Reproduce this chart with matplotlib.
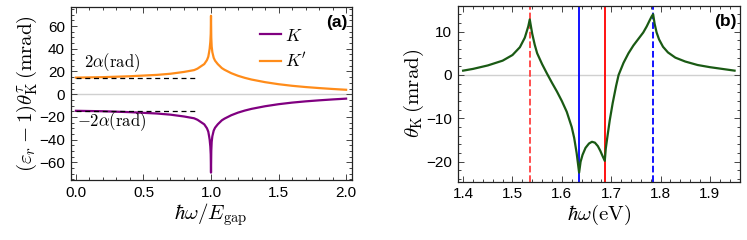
import numpy as np
import matplotlib
matplotlib.use('Agg')
import matplotlib.pyplot as plt
from matplotlib.ticker import MultipleLocator

plt.rcParams['font.family'] = ['Liberation Sans', 'DejaVu Sans']
plt.rcParams['mathtext.fontset'] = 'cm'

# panel (a): K' curve (K is its mirror image)
x_a = [0.0, 0.2, 0.4, 0.6, 0.7, 0.8, 0.875, 0.9, 0.925, 0.95, 0.97, 0.98,
       0.986, 0.99, 0.995, 0.998, 1.0, 1.002, 1.005, 1.01, 1.02, 1.03, 1.05,
       1.08, 1.1, 1.15, 1.2, 1.25, 1.3, 1.4, 1.5, 1.6, 1.7, 1.8, 1.9, 2.0]
kp_a = [14.6, 15.0, 15.8, 17.0, 18.0, 19.6, 21.2, 22.5, 24.5, 26.5, 30.0, 33.0,
        37.0, 40.0, 46.0, 53.0, 69.0, 50.0, 42.0, 37.0, 32.0, 29.5, 26.5,
        23.0, 21.5, 18.5, 16.2, 14.4, 12.9, 10.6, 8.8, 7.4, 6.3, 5.4, 4.6, 3.9]
k_a = [-v for v in kp_a]
two_alpha = 14.6  # mrad
dash_end = 0.9

# panel (b): total Kerr angle
x_b = [1.400, 1.420, 1.450, 1.480, 1.500, 1.515, 1.525, 1.532, 1.535,
       1.540, 1.545, 1.550, 1.560, 1.570, 1.580, 1.590, 1.600, 1.610,
       1.620, 1.625, 1.630, 1.635, 1.638, 1.642, 1.648, 1.655, 1.661,
       1.667, 1.673, 1.678, 1.683, 1.687, 1.689, 1.692, 1.697, 1.703,
       1.710, 1.715, 1.725, 1.735, 1.745, 1.755, 1.765, 1.772, 1.778,
       1.782, 1.785, 1.788, 1.792, 1.797, 1.805, 1.815, 1.830, 1.850,
       1.875, 1.900, 1.925, 1.950]
y_b = [1.0, 1.4, 2.2, 3.3, 4.6, 6.4, 8.6, 11.2, 12.8,
       9.5, 7.0, 5.0, 2.5, 0.3, -1.8, -3.8, -6.0, -8.5,
       -12.0, -14.5, -18.0, -22.5, -20.0, -18.4, -16.8, -15.8, -15.4,
       -15.6, -16.4, -17.5, -18.8, -19.8, -17.0, -14.5, -10.5, -6.5,
       -2.5, 0.0, 2.8, 5.0, 6.8, 8.3, 9.8, 11.2, 12.6,
       13.5, 14.0, 11.8, 9.8, 8.2, 6.5, 5.2, 4.0, 3.1,
       2.3, 1.8, 1.4, 1.0]
vlines_b = [(1.535, '#ff4040', '--'), (1.635, '#0000ff', '-'),
            (1.687, '#ff0000', '-'), (1.785, '#0000ff', '--')]

fig = plt.figure(figsize=(7.47, 2.4), dpi=100)
ax1 = fig.add_axes([70.5 / 747, 60 / 240, 281 / 747, 173.3 / 240])
ax2 = fig.add_axes([457.7 / 747, 58.3 / 240, 282.3 / 747, 175.7 / 240])

for ax in (ax1, ax2):
    ax.tick_params(which='both', direction='in', top=True, right=True,
                   labelsize=11, pad=4, width=0.7, color='#444444')
    ax.tick_params(which='major', length=4)
    ax.tick_params(which='minor', length=2)
    for s in ax.spines.values():
        s.set_linewidth(0.9)
        s.set_color('#222222')

# (a)
ax1.axhline(0, color='#d0d0d0', lw=1.0, zorder=1)
ax1.plot(x_a, k_a, color='#800080', lw=1.6, label=r'$K$', zorder=3)
ax1.plot(x_a, kp_a, color='#ff8c1a', lw=1.6, label=r"$K'$", zorder=3)
ax1.plot([0, dash_end], [two_alpha, two_alpha], 'k--', lw=0.9, dashes=(4, 3), zorder=4)
ax1.plot([0, dash_end], [-two_alpha, -two_alpha], 'k--', lw=0.9, dashes=(4, 3), zorder=4)
ax1.text(0.06, 27.5, r'$2\alpha(\mathrm{rad})$', fontsize=12, va='center')
ax1.text(0.01, -24.5, r'$-2\alpha(\mathrm{rad})$', fontsize=12, va='center')
ax1.set_xlim(-0.04, 2.04)
ax1.set_ylim(-75.5, 77)
ax1.xaxis.set_major_locator(MultipleLocator(0.5))
ax1.xaxis.set_minor_locator(MultipleLocator(0.1))
ax1.yaxis.set_major_locator(MultipleLocator(20))
ax1.yaxis.set_minor_locator(MultipleLocator(5))
ax1.xaxis.set_major_formatter(plt.FormatStrFormatter('%.1f'))
ax1.set_xlabel(r'$\hbar\omega/E_{\mathrm{gap}}$', fontsize=15, labelpad=1)
ax1.set_ylabel(r'$(\varepsilon_r-1)\theta_{\mathrm{K}}^{\tau}\,(\mathrm{mrad})$',
               fontsize=15, labelpad=0)
ax1.legend(loc='upper left', bbox_to_anchor=(0.62, 0.97), frameon=False,
           fontsize=12.5, handlelength=1.2, handletextpad=0.2, labelspacing=0.45)
ax1.text(0.985, 0.952, '(a)', transform=ax1.transAxes, ha='right', va='top',
         fontsize=12.5, fontweight='bold')

# (b)
ax2.axhline(0, color='#d0d0d0', lw=1.0, zorder=1)
for xv, c, ls in vlines_b:
    ax2.axvline(xv, color=c, ls=ls, lw=1.3, zorder=2)
ax2.plot(x_b, y_b, color='#1a5a14', lw=1.6, zorder=3)
ax2.set_xlim(1.389, 1.961)
ax2.set_ylim(-24.6, 15.9)
ax2.xaxis.set_major_locator(MultipleLocator(0.1))
ax2.xaxis.set_minor_locator(MultipleLocator(0.02))
ax2.yaxis.set_major_locator(MultipleLocator(10))
ax2.yaxis.set_minor_locator(MultipleLocator(2))
ax2.xaxis.set_major_formatter(plt.FormatStrFormatter('%.1f'))
ax2.set_xlabel(r'$\hbar\omega(\mathrm{eV})$', fontsize=15, labelpad=1)
ax2.set_ylabel(r'$\theta_{\mathrm{K}}\,(\mathrm{mrad})$', fontsize=15, labelpad=0)
ax2.text(0.988, 0.952, '(b)', transform=ax2.transAxes, ha='right', va='top',
         fontsize=12.5, fontweight='bold')

plt.savefig('out.png', dpi=100)
